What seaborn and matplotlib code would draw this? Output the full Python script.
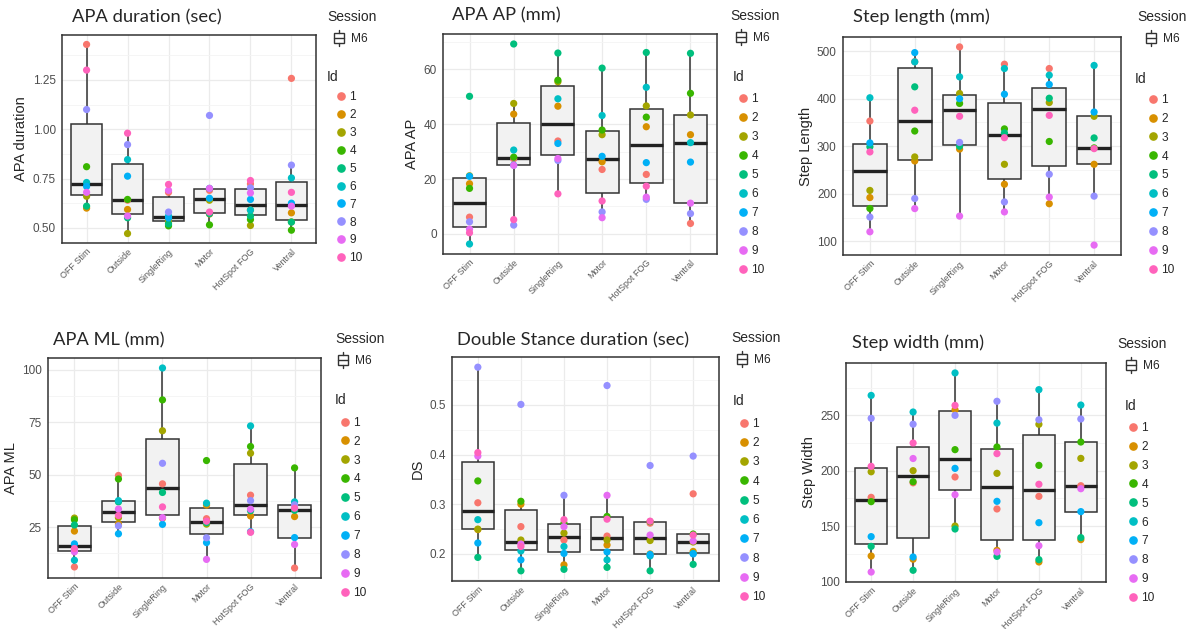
import numpy as np
import pandas as pd
import matplotlib
matplotlib.use("Agg")
import matplotlib.pyplot as plt
import seaborn as sns
from matplotlib.lines import Line2D
from matplotlib.patches import Rectangle
from matplotlib.legend_handler import HandlerBase
from matplotlib.ticker import AutoMinorLocator

conditions = ["OFF Stim", "Outside", "SingleRing", "Motor", "HotSpot FOG", "Ventral"]
ids = list(range(1, 11))
id_colors = ["#F8766D", "#D89000", "#A3A500", "#39B600", "#00BF7D",
             "#00BFC4", "#00B0F6", "#9590FF", "#E76BF3", "#FF62BC"]
nan = np.nan

# one row per condition, values for Id 1..10
apa_duration = [
    [1.43, 0.60, 0.66, 0.81, 0.61, 0.73, 0.71, 1.10, 0.68, 1.30],
    [0.64, 0.593, 0.471, 0.644, 0.551, 0.846, 0.762, 0.922, 0.56, 0.98],
    [0.68, 0.53, 0.54, 0.51, 0.52, 0.56, 0.55, 0.58, 0.69, 0.72],
    [0.69, 0.57, 0.64, 0.515, 0.572, 0.70, 0.65, 1.07, 0.70, 0.58],
    [0.723, 0.59, 0.512, 0.542, 0.56, 0.59, 0.644, 0.703, 0.677, 0.74],
    [1.258, 0.576, 0.53, 0.488, 0.529, 0.753, 0.625, 0.818, 0.61, 0.68],
]
apa_ap = [
    [6.1, 18.3, 21.2, 16.6, 50.2, -3.7, 21.0, 4.4, 1.7, 0.4],
    [27.4, 43.7, 47.6, 28.0, 69.3, 30.6, 25.1, 3.2, 25.0, 5.2],
    [33.9, 46.6, 55.5, 56.1, 66.0, 49.3, 33.0, 26.8, 27.5, 14.6],
    [23.5, 26.3, 36.2, 37.9, 60.5, 43.2, 28.3, 8.0, 5.9, 12.0],
    [21.7, 39.1, 46.7, 42.6, 66.2, 53.5, 26.0, 12.6, 13.4, 17.4],
    [3.8, 36.2, 43.4, 51.3, 65.9, 33.3, 26.2, 7.4, 11.2, nan],
]
step_length = [
    [353, 192, 207, 169, 299, 402, 307, 151, 120, 288],
    [478, 269, 277.5, 332, 425, 477.5, 497, 190, 168.8, 375.8],
    [509, 294, 411, 390, 300, 446, 400, 308, 153, 363],
    [472.6, 220, 262, 336.5, 328, 463.5, 409.5, 182.8, 161.8, 318],
    [463.5, 179, 392, 310, 401, 449.5, 430, 241, 193, 365],
    [nan, 262, 363, 296.5, 317.5, 470, 372, 195, 92, 295],
]
apa_ml = [
    [6.0, 23.1, 29.3, 28.5, 26.0, 9.2, 17.0, 14.0, 13.2, 14.8],
    [49.6, 26.5, 29.5, 47.9, 37.0, 37.6, 21.8, 25.6, 33.6, 30.5],
    [45.6, 29.2, 70.9, 85.6, 41.5, 100.8, 26.3, 55.4, 29.5, 34.6],
    [29.0, 35.5, 26.4, 56.7, 27.1, 36.4, 17.6, 19.9, 9.6, 27.8],
    [40.2, 30.3, 60.2, 63.4, 32.8, 73.2, 22.8, 37.6, 33.5, 22.5],
    [5.5, 30.0, nan, 53.2, 33.0, 37.0, 20.0, 35.6, 16.7, 34.0],
]
double_stance = [
    [0.303, 0.249, 0.25, 0.347, 0.193, 0.269, 0.222, 0.576, 0.397, 0.404],
    [0.255, 0.300, 0.228, 0.306, 0.166, 0.206, 0.188, 0.501, 0.220, 0.215],
    [0.228, 0.178, 0.242, 0.262, 0.169, 0.215, 0.201, 0.318, 0.255, 0.269],
    [0.236, 0.218, 0.228, 0.2755, 0.173, 0.188, 0.204, 0.539, 0.318, 0.27],
    [0.262, 0.20, 0.227, 0.265, 0.166, 0.196, 0.199, 0.378, 0.238, 0.266],
    [0.321, 0.205, 0.224, 0.24, 0.179, 0.201, 0.20, 0.397, 0.226, 0.238],
]
step_width = [
    [175.9, 122.9, 199, 172, 131.6, 268, 140.4, 247.3, 108.4, 203.9],
    [189, 120, 200, 190, 110, 253, 122, 242, 211, 225],
    [194.3, 255, 150, 219, 147.3, 288.3, 202.1, 250, 178.3, 259],
    [165.4, 128, 197.6, 221.4, 122.6, 243, 172.3, 262.7, 126.5, 215.4],
    [176.8, 117.5, 241.9, 204.8, 119.6, 273.2, 153, 246, 132.2, 187.7],
    [186.4, 137.7, 211.1, 225.9, 139.5, 259.3, 163, 246.7, 183.7, nan],
]

W, H = 1193, 629
sns.set_style("white")
plt.rcParams["font.family"] = ["Liberation Sans", "DejaVu Sans"]


def fx(px):
    return px / W


def fy(py):
    return 1 - py / H


def long_frame(values):
    rows = [(c, i, v) for c, vals in zip(conditions, values) for i, v in zip(ids, vals)]
    return pd.DataFrame(rows, columns=["Condition", "Id", "value"])


class BoxKey(HandlerBase):
    def create_artists(self, legend, orig_handle, xdescent, ydescent,
                       width, height, fontsize, trans):
        x0, w = -xdescent + 0.1 * width, 0.8 * width
        y0, h = -ydescent - 0.05 * height, 1.1 * height
        xc = x0 + w / 2
        return [
            Rectangle((x0, y0), w, h, facecolor="white", edgecolor="#333333",
                      lw=1.0, transform=trans),
            Line2D([x0, x0 + w], [y0 + h / 2] * 2, color="#333333", lw=1.0, transform=trans),
            Line2D([xc, xc], [y0 + h, y0 + h + 0.3 * height], color="#333333", lw=1.0, transform=trans),
            Line2D([xc, xc], [y0, y0 - 0.3 * height], color="#333333", lw=1.0, transform=trans),
        ]


# title, ylabel, values, yticks, tick format, axes box (l, t, r, b px),
# title (x, y), legend (session title x/y, Id title x/y, dot x, first y, last y)
panels = [
    ("APA duration (sec)", "APA duration", apa_duration, [0.5, 0.75, 1.0, 1.25], "{:.2f}",
     (62, 35, 316, 243), (72, 17), (327, 17, 327, 77, 341, 96.7, 257.3)),
    ("APA AP (mm)", "APA AP", apa_ap, [0, 20, 40, 60], "{:.0f}",
     (443, 34, 717, 254), (452, 15), (730, 16, 733, 77, 743, 99, 269.3)),
    ("Step length (mm)", "Step Length", step_length, [100, 200, 300, 400, 500], "{:.0f}",
     (843, 37, 1121, 255), (853, 17), (1137, 17, 1135, 79, 1153, 99.3, 269)),
    ("APA ML (mm)", "APA ML", apa_ml, [25, 50, 75, 100], "{:.0f}",
     (48, 358, 321, 578), (53, 340), (335, 339, 335, 400, 345, 422.3, 591.7)),
    ("Double Stance duration (sec)", "DS", double_stance, [0.2, 0.3, 0.4, 0.5], "{:.1f}",
     (452, 357, 719, 581), (457, 340), (731, 338, 733, 400.7, 744, 423.3, 596)),
    ("Step width (mm)", "Step Width", step_width, [100, 150, 200, 250], "{:.0f}",
     (846, 363, 1106, 582), (852, 343), (1117, 344, 1125, 406, 1133, 427.3, 597.3)),
]

fig = plt.figure(figsize=(W / 100, H / 100), dpi=100)
palette = dict(zip(ids, id_colors))

for title, ylabel, values, yticks, fmt, box, tpos, lg in panels:
    l, t, r, b = box
    ax = fig.add_axes([fx(l), fy(b), (r - l) / W, (b - t) / H])
    df = long_frame(values)
    sns.boxplot(data=df, x="Condition", y="value", order=conditions, ax=ax,
                color="#F2F2F2", linecolor="#333333", linewidth=1.1, width=0.75,
                showfliers=False, showcaps=False,
                medianprops=dict(color="#222222", linewidth=2.4))
    sns.stripplot(data=df, x="Condition", y="value", order=conditions, hue="Id",
                  palette=palette, jitter=False, size=5.2, linewidth=0, legend=False,
                  ax=ax, zorder=3)
    ax.set_xlim(-0.6, 5.6)
    ax.set_xlabel("")
    ax.set_ylabel(ylabel, fontsize=10.5, labelpad=3)
    ax.set_yticks(yticks)
    ax.set_yticklabels([fmt.format(v) for v in yticks])
    ax.yaxis.set_minor_locator(AutoMinorLocator(2))
    ax.set_xticks(range(len(conditions)))
    ax.set_xticklabels(conditions, rotation=45, ha="right", va="top",
                       rotation_mode="anchor", fontsize=6.5, color="#5A5A5A")
    ax.grid(True, which="major", color="#EBEBEB", lw=0.9)
    ax.grid(True, which="minor", axis="y", color="#F4F4F4", lw=0.6)
    ax.set_axisbelow(True)
    for s in ax.spines.values():
        s.set_color("#333333")
        s.set_linewidth(1.1)
    ax.tick_params(axis="both", which="major", length=2.5, width=0.8, color="#333333",
                   pad=2)
    ax.tick_params(axis="x", pad=0.5)
    ax.tick_params(axis="y", labelcolor="#4D4D4D", labelsize=8.5)
    ax.tick_params(axis="both", which="minor", length=0)

    fig.text(fx(tpos[0]), fy(tpos[1]), title, fontsize=13.2, family=["Lato", "DejaVu Sans"],
             ha="left", va="center")

    sx, sy, ix, iy, dx, y1, y10 = lg
    fig.text(fx(sx), fy(sy), "Session", fontsize=10, ha="left", va="center")
    fig.text(fx(ix), fy(iy), "Id", fontsize=10, ha="left", va="center")

    fs = 8.6
    fs_px = fs * 100 / 72
    pitch = (y10 - y1) / 9
    fig.legend(handles=[Rectangle((0, 0), 1, 1)], labels=["M6"], handler_map={Rectangle: BoxKey()},
               loc="center left", bbox_to_anchor=(fx(dx - 8), fy(sy + 22)),
               frameon=False, fontsize=fs, handlelength=1.0, handleheight=0.8,
               handletextpad=0.5, borderpad=0, borderaxespad=0)
    handles = [Line2D([], [], marker="o", ls="", color=c, markersize=5.2) for c in id_colors]
    fig.legend(handles=handles, labels=[str(i) for i in ids],
               loc="upper left", bbox_to_anchor=(fx(dx - 4.75), fy(y1 - 5.5)),
               frameon=False, fontsize=fs, handlelength=0.8, handletextpad=0.3,
               labelspacing=(pitch / fs_px) - 1.0, borderpad=0, borderaxespad=0)

fig.savefig("out.png", dpi=100)
